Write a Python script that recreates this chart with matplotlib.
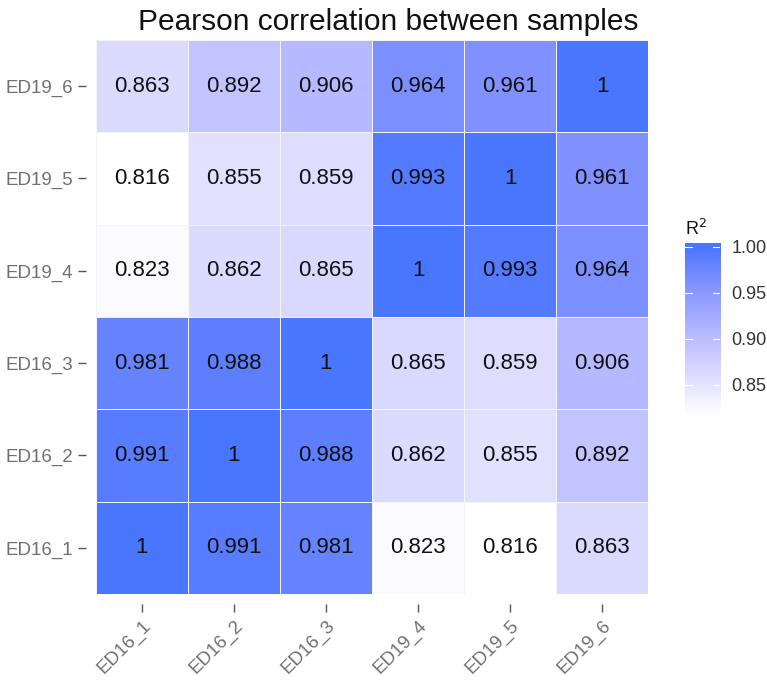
import numpy as np
import matplotlib
matplotlib.use("Agg")
import matplotlib.pyplot as plt
from matplotlib.colors import ListedColormap, Normalize, to_rgb

samples = ["ED16_1", "ED16_2", "ED16_3", "ED19_4", "ED19_5", "ED19_6"]
corr = [
    [1, 0.991, 0.981, 0.823, 0.816, 0.863],
    [0.991, 1, 0.988, 0.862, 0.855, 0.892],
    [0.981, 0.988, 1, 0.865, 0.859, 0.906],
    [0.823, 0.862, 0.865, 1, 0.993, 0.964],
    [0.816, 0.855, 0.859, 0.993, 1, 0.961],
    [0.863, 0.892, 0.906, 0.964, 0.961, 1],
]
cbar_ticks = [0.85, 0.90, 0.95, 1.00]
low_col, high_col = "#FFFFFF", "#4876FF"

# --- Lab interpolation (like ggplot's scale_fill_gradient) ---
def srgb_to_lab(c):
    c = np.asarray(c, float)
    lin = np.where(c <= 0.04045, c / 12.92, ((c + 0.055) / 1.055) ** 2.4)
    M = np.array([[0.4124, 0.3576, 0.1805], [0.2126, 0.7152, 0.0722], [0.0193, 0.1192, 0.9505]])
    xyz = M @ lin
    wp = np.array([0.95047, 1.0, 1.08883])
    t = xyz / wp
    f = np.where(t > (6 / 29) ** 3, np.cbrt(t), t / (3 * (6 / 29) ** 2) + 4 / 29)
    return np.array([116 * f[1] - 16, 500 * (f[0] - f[1]), 200 * (f[1] - f[2])])

def lab_to_srgb(lab):
    L, a, b = lab
    fy = (L + 16) / 116
    fx = fy + a / 500
    fz = fy - b / 200
    def finv(f):
        return np.where(f > 6 / 29, f ** 3, 3 * (6 / 29) ** 2 * (f - 4 / 29))
    wp = np.array([0.95047, 1.0, 1.08883])
    xyz = np.array([finv(fx), finv(fy), finv(fz)]) * wp
    Minv = np.array([[3.2406, -1.5372, -0.4986], [-0.9689, 1.8758, 0.0415], [0.0557, -0.2040, 1.0570]])
    lin = Minv @ xyz
    lin = np.clip(lin, 0, 1)
    c = np.where(lin <= 0.0031308, 12.92 * lin, 1.055 * lin ** (1 / 2.4) - 0.055)
    return np.clip(c, 0, 1)

lab_lo, lab_hi = srgb_to_lab(to_rgb(low_col)), srgb_to_lab(to_rgb(high_col))
cols = [lab_to_srgb(lab_lo + (lab_hi - lab_lo) * t) for t in np.linspace(0, 1, 256)]
cmap = ListedColormap(cols)

plt.rcParams['font.family'] = ['Liberation Sans', 'DejaVu Sans']
M = np.array(corr)
vmin, vmax = M.min(), M.max()
norm = Normalize(vmin=vmin, vmax=vmax)

fig = plt.figure(figsize=(7.67, 6.87), dpi=100)
ax = fig.add_axes([0.125, 0.1354, 0.72, 0.8064])
ax.spines['left'].set_position(('outward', 7.2))
ax.spines['bottom'].set_position(('outward', 7.2))
for sp in ax.spines.values():
    sp.set_visible(False)
mesh = ax.pcolormesh(np.arange(len(samples) + 1), np.arange(len(samples) + 1), M,
                     cmap=cmap, norm=norm, edgecolors="#F4F4F4", linewidth=0.6)
for i in range(len(samples)):
    for j in range(len(samples)):
        v = M[i, j]
        s = "1" if v == 1 else f"{v:g}"
        ax.text(j + 0.5, i + 0.5, s, ha="center", va="center", fontsize=16, color="#111111")
ax.set_xlim(0, len(samples))
ax.set_ylim(0, len(samples))
ax.set_xticks(np.arange(len(samples)) + 0.5)
ax.set_yticks(np.arange(len(samples)) + 0.5)
ax.set_xticklabels(samples, rotation=45, ha="right", va="top", rotation_mode="anchor")
ax.set_yticklabels(samples)
ax.tick_params(axis="both", length=5.8, width=1, color="#555555", labelcolor="#707070",
               labelsize=13.5, pad=3.5)
fig.text(0.506, 0.988, "Pearson correlation between samples", ha="center", va="top",
         fontsize=21.5, color="#111111")

# colorbar drawn as gradient
cax = fig.add_axes([0.893, 0.3916, 0.046, 0.2547])
lo, hi = vmin - 0.002, vmax + 0.004
grad = np.linspace(lo, hi, 300).reshape(-1, 1)
cax.imshow(grad, extent=[0, 1, lo, hi], origin="lower", aspect="auto", cmap=cmap, norm=norm)
cax.set_xlim(0, 1)
cax.set_ylim(lo, hi)
cax.set_xticks([])
cax.yaxis.tick_right()
cax.set_yticks(cbar_ticks)
cax.set_yticklabels([f"{t:.2f}" for t in cbar_ticks])
cax.tick_params(axis="y", length=0, labelsize=13, labelcolor="#333333", pad=8)
for sp in cax.spines.values():
    sp.set_visible(False)
for t in cbar_ticks:
    cax.plot([0, 0.2], [t, t], color="white", lw=0.8)
    cax.plot([0.8, 1], [t, t], color="white", lw=0.8)
cax.set_title("R$^2$", fontsize=13, loc="left", color="#111111", pad=6)

fig.savefig("out.png", dpi=100)
